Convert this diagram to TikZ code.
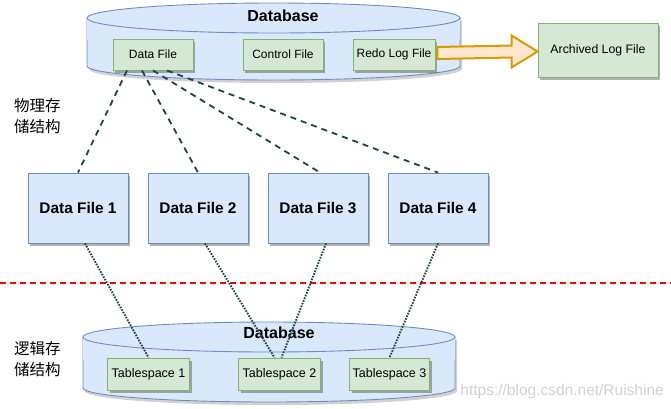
\documentclass[tikz,border=0pt]{standalone}
\usepackage{fontspec}
\setmainfont{Liberation Sans}
\newfontfamily\cjk{Noto Sans CJK SC}
\usetikzlibrary{calc,shadows}
\definecolor{bluefill}{HTML}{DAE8FC}
\definecolor{bluedraw}{HTML}{6C8EBF}
\definecolor{greenfill}{HTML}{D5E8D4}
\definecolor{greendraw}{HTML}{82B366}
\definecolor{orangefill}{HTML}{FFE6CC}
\definecolor{orangedraw}{HTML}{D79B00}
\definecolor{linkcol}{HTML}{1F4444}
\tikzset{
  shad/.style={drop shadow={shadow xshift=2pt,shadow yshift=-2.5pt,opacity=0.3,fill=black}},
  filebox/.style={draw=greendraw,fill=greenfill,line width=0.9pt,shad,
    minimum height=31pt,inner sep=0pt,font=\fontsize{12}{14}\selectfont},
  datafile/.style={draw=bluedraw,fill=bluefill,line width=0.9pt,shad,
    minimum width=100pt,minimum height=70pt,inner sep=0pt,
    font=\bfseries\fontsize{15.4}{18}\selectfont},
  tsbox/.style={draw=greendraw,fill=greenfill,line width=0.9pt,shad,
    minimum height=32pt,inner sep=0pt,font=\fontsize{12.5}{14}\selectfont},
  dblabel/.style={font=\bfseries\fontsize{16}{18}\selectfont},
  cylbody/.style={fill=bluefill,draw=bluedraw,line width=0.9pt},
  physlink/.style={draw=linkcol,line width=1.8pt,dash pattern=on 6pt off 5pt},
  logiclink/.style={draw=linkcol,line width=1.9pt,dash pattern=on 1.6pt off 1.3pt},
  cnlabel/.style={font=\cjk\fontsize{15.5}{21}\selectfont,align=left,inner sep=0pt},
}
\begin{document}
\begin{tikzpicture}[x=1pt,y=-1pt]
\useasboundingbox (0,0) rectangle (671,408);
% ---------- top cylinder ----------
\fill[black,opacity=0.18] (89,21) -- (89,69) .. controls (89,77) and (172.5,83) .. (275.5,83)
   .. controls (378.5,83) and (462,77) .. (462,69) -- (462,21) -- cycle;
\path[cylbody] (87,18) -- (87,66) .. controls (87,73.7) and (170.5,80) .. (273.5,80)
   .. controls (376.5,80) and (460,73.7) .. (460,66) -- (460,18);
\fill[bluefill] (87,18) rectangle (460,40);
\draw[cylbody] (273.5,18) ellipse [x radius=186.5, y radius=15];
\node[dblabel] (db1) at (283,16) {Database};
\node[filebox,minimum width=80pt] (df) at (153,54.5) {Data File};
\node[filebox,minimum width=80pt] (cf) at (283,54.5) {Control File};
\node[filebox,minimum width=82pt] (redo) at (394,54.5) {Redo Log File};
% ---------- archived log ----------
\node[filebox,minimum width=120pt,minimum height=54pt,font=\fontsize{12.3}{14}\selectfont] (arch) at (598,50) {Archived Log File};
\draw[fill=orangefill,draw=orangedraw,line width=2pt,line join=miter]
  ($(redo.east)+(2,-7.5)$) -- ($(arch.west)+(-26,-4.5)$) -- ($(arch.west)+(-26,-14.5)$)
  -- ($(arch.west)+(0,1.5)$) -- ($(arch.west)+(-26,17.5)$) -- ($(arch.west)+(-26,7.5)$)
  -- ($(redo.east)+(2,4.5)$) -- cycle;
% ---------- labels ----------
\node[cnlabel,anchor=west] (phys) at (14,116) {物理存\\储结构};
\node[cnlabel,anchor=west] (logic) at (14,359) {逻辑存\\储结构};
% ---------- data files ----------
\node[datafile] (d1) at (78,208) {Data File 1};
\node[datafile] (d2) at (198,208) {Data File 2};
\node[datafile] (d3) at (318,208) {Data File 3};
\node[datafile] (d4) at (438,208) {Data File 4};
\draw[physlink] ([xshift=-26pt]df.south) -- (d1.north);
\draw[physlink] ([xshift=-11pt]df.south) -- (d2.north);
\draw[physlink] (df.south) -- ([xshift=2pt]d3.north);
\draw[physlink] ([xshift=14pt]df.south) -- (d4.north);
% ---------- separator ----------
\draw[red,line width=1.8pt,dash pattern=on 6pt off 4pt] (0,283) -- (671,283);
% ---------- bottom cylinder ----------
\fill[black,opacity=0.18] (85,340) -- (85,391) .. controls (85,399) and (168,405) .. (271,405)
   .. controls (374,405) and (457,399) .. (457,391) -- (457,340) -- cycle;
\path[cylbody] (83,337) -- (83,388) .. controls (83,395.7) and (166,402) .. (269,402)
   .. controls (372,402) and (455,395.7) .. (455,388) -- (455,337);
\fill[bluefill] (83,337) rectangle (455,360);
\draw[cylbody] (269,337) ellipse [x radius=186, y radius=15];
\node[dblabel] (db2) at (279,333) {Database};
\node[tsbox,minimum width=82pt] (t1) at (148.5,374) {Tablespace 1};
\node[tsbox,minimum width=82pt] (t2) at (279.5,374) {Tablespace 2};
\node[tsbox,minimum width=80pt] (t3) at (389.5,374) {Tablespace 3};
\draw[logiclink] ([xshift=7pt]d1.south) -- (t1.north);
\draw[logiclink] ([xshift=7pt]d2.south) -- ([xshift=-5pt]t2.north);
\draw[logiclink] ([xshift=8pt]d3.south) -- ([xshift=2pt]t2.north);
\draw[logiclink] (d4.south) -- (t3.north);
% ---------- watermark ----------
\node[anchor=east,text=black!18,font=\fontsize{15.5}{18}\selectfont,inner sep=0pt] (wm) at (664,391) {https://blog.csdn.net/Ruishine};
\end{tikzpicture}
\end{document}
